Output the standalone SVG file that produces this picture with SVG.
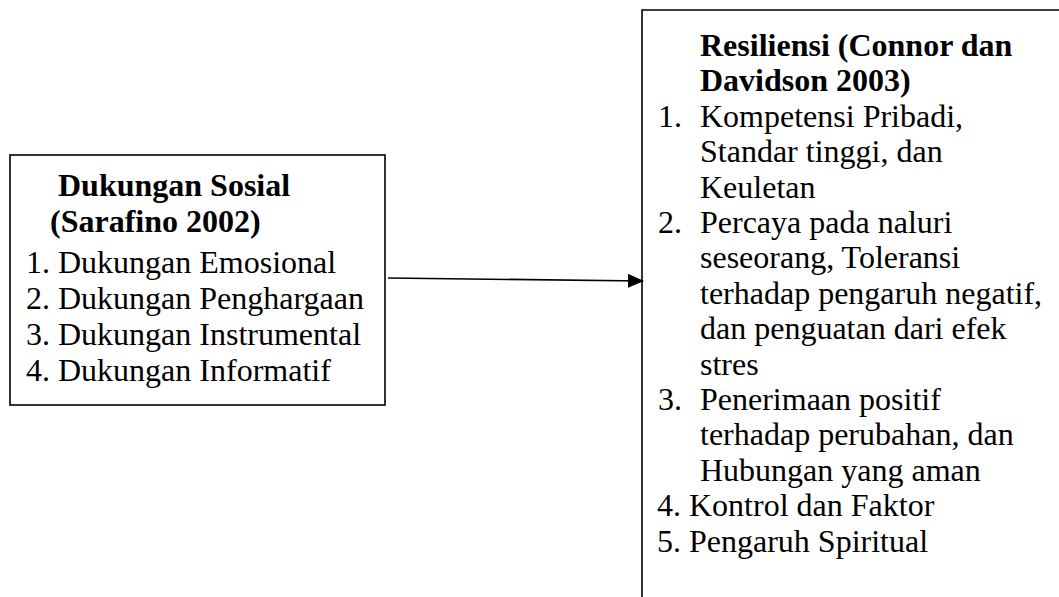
<svg xmlns="http://www.w3.org/2000/svg" width="1059" height="597" viewBox="0 0 1059 597">
<style>
.box{fill:none;stroke:#000;stroke-width:1.6}
.t{font-family:"Liberation Serif","Times New Roman",serif;font-size:32px;fill:#000}
.b{font-weight:bold}
.conn{stroke:#000;stroke-width:1.6;fill:none}
</style>
<defs>
<marker id="ah" markerWidth="16" markerHeight="14" refX="15" refY="7" orient="auto" markerUnits="userSpaceOnUse">
<polygon points="0,0 16,7 0,14" fill="#000"/>
</marker>
</defs>
<rect width="1059" height="597" fill="#fff"/>
<g id="node-dukungan">
<rect class="box" x="10" y="155" width="375" height="250"/>
<text class="t b" x="58" y="196">Dukungan Sosial</text>
<text class="t b" x="50" y="232">(Sarafino 2002)</text>
<text class="t" x="26" y="273">1. Dukungan Emosional</text>
<text class="t" x="26" y="309">2. Dukungan Penghargaan</text>
<text class="t" x="26" y="345">3. Dukungan Instrumental</text>
<text class="t" x="26" y="381">4. Dukungan Informatif</text>
</g>
<g id="node-resiliensi">
<path class="box" d="M642,597 V10 H1070"/>
<text class="t b" x="700" y="56">Resiliensi (Connor dan</text>
<text class="t b" x="700" y="91.4">Davidson 2003)</text>
<text class="t" x="658" y="126.8">1.</text>
<text class="t" x="700" y="126.8">Kompetensi Pribadi,</text>
<text class="t" x="700" y="162.2">Standar tinggi, dan</text>
<text class="t" x="700" y="197.6">Keuletan</text>
<text class="t" x="658" y="233">2.</text>
<text class="t" x="700" y="233">Percaya pada naluri</text>
<text class="t" x="700" y="268.4">seseorang, Toleransi</text>
<text class="t" x="700" y="303.8">terhadap pengaruh negatif,</text>
<text class="t" x="700" y="339.2">dan penguatan dari efek</text>
<text class="t" x="700" y="374.6">stres</text>
<text class="t" x="658" y="410">3.</text>
<text class="t" x="700" y="410">Penerimaan positif</text>
<text class="t" x="700" y="445.4">terhadap perubahan, dan</text>
<text class="t" x="700" y="480.8">Hubungan yang aman</text>
<text class="t" x="657" y="516.2">4. Kontrol dan Faktor</text>
<text class="t" x="657" y="551.6">5. Pengaruh Spiritual</text>
</g>
<g id="connectors">
<line class="conn" x1="388" y1="278" x2="643" y2="281" marker-end="url(#ah)"/>
</g>
</svg>
